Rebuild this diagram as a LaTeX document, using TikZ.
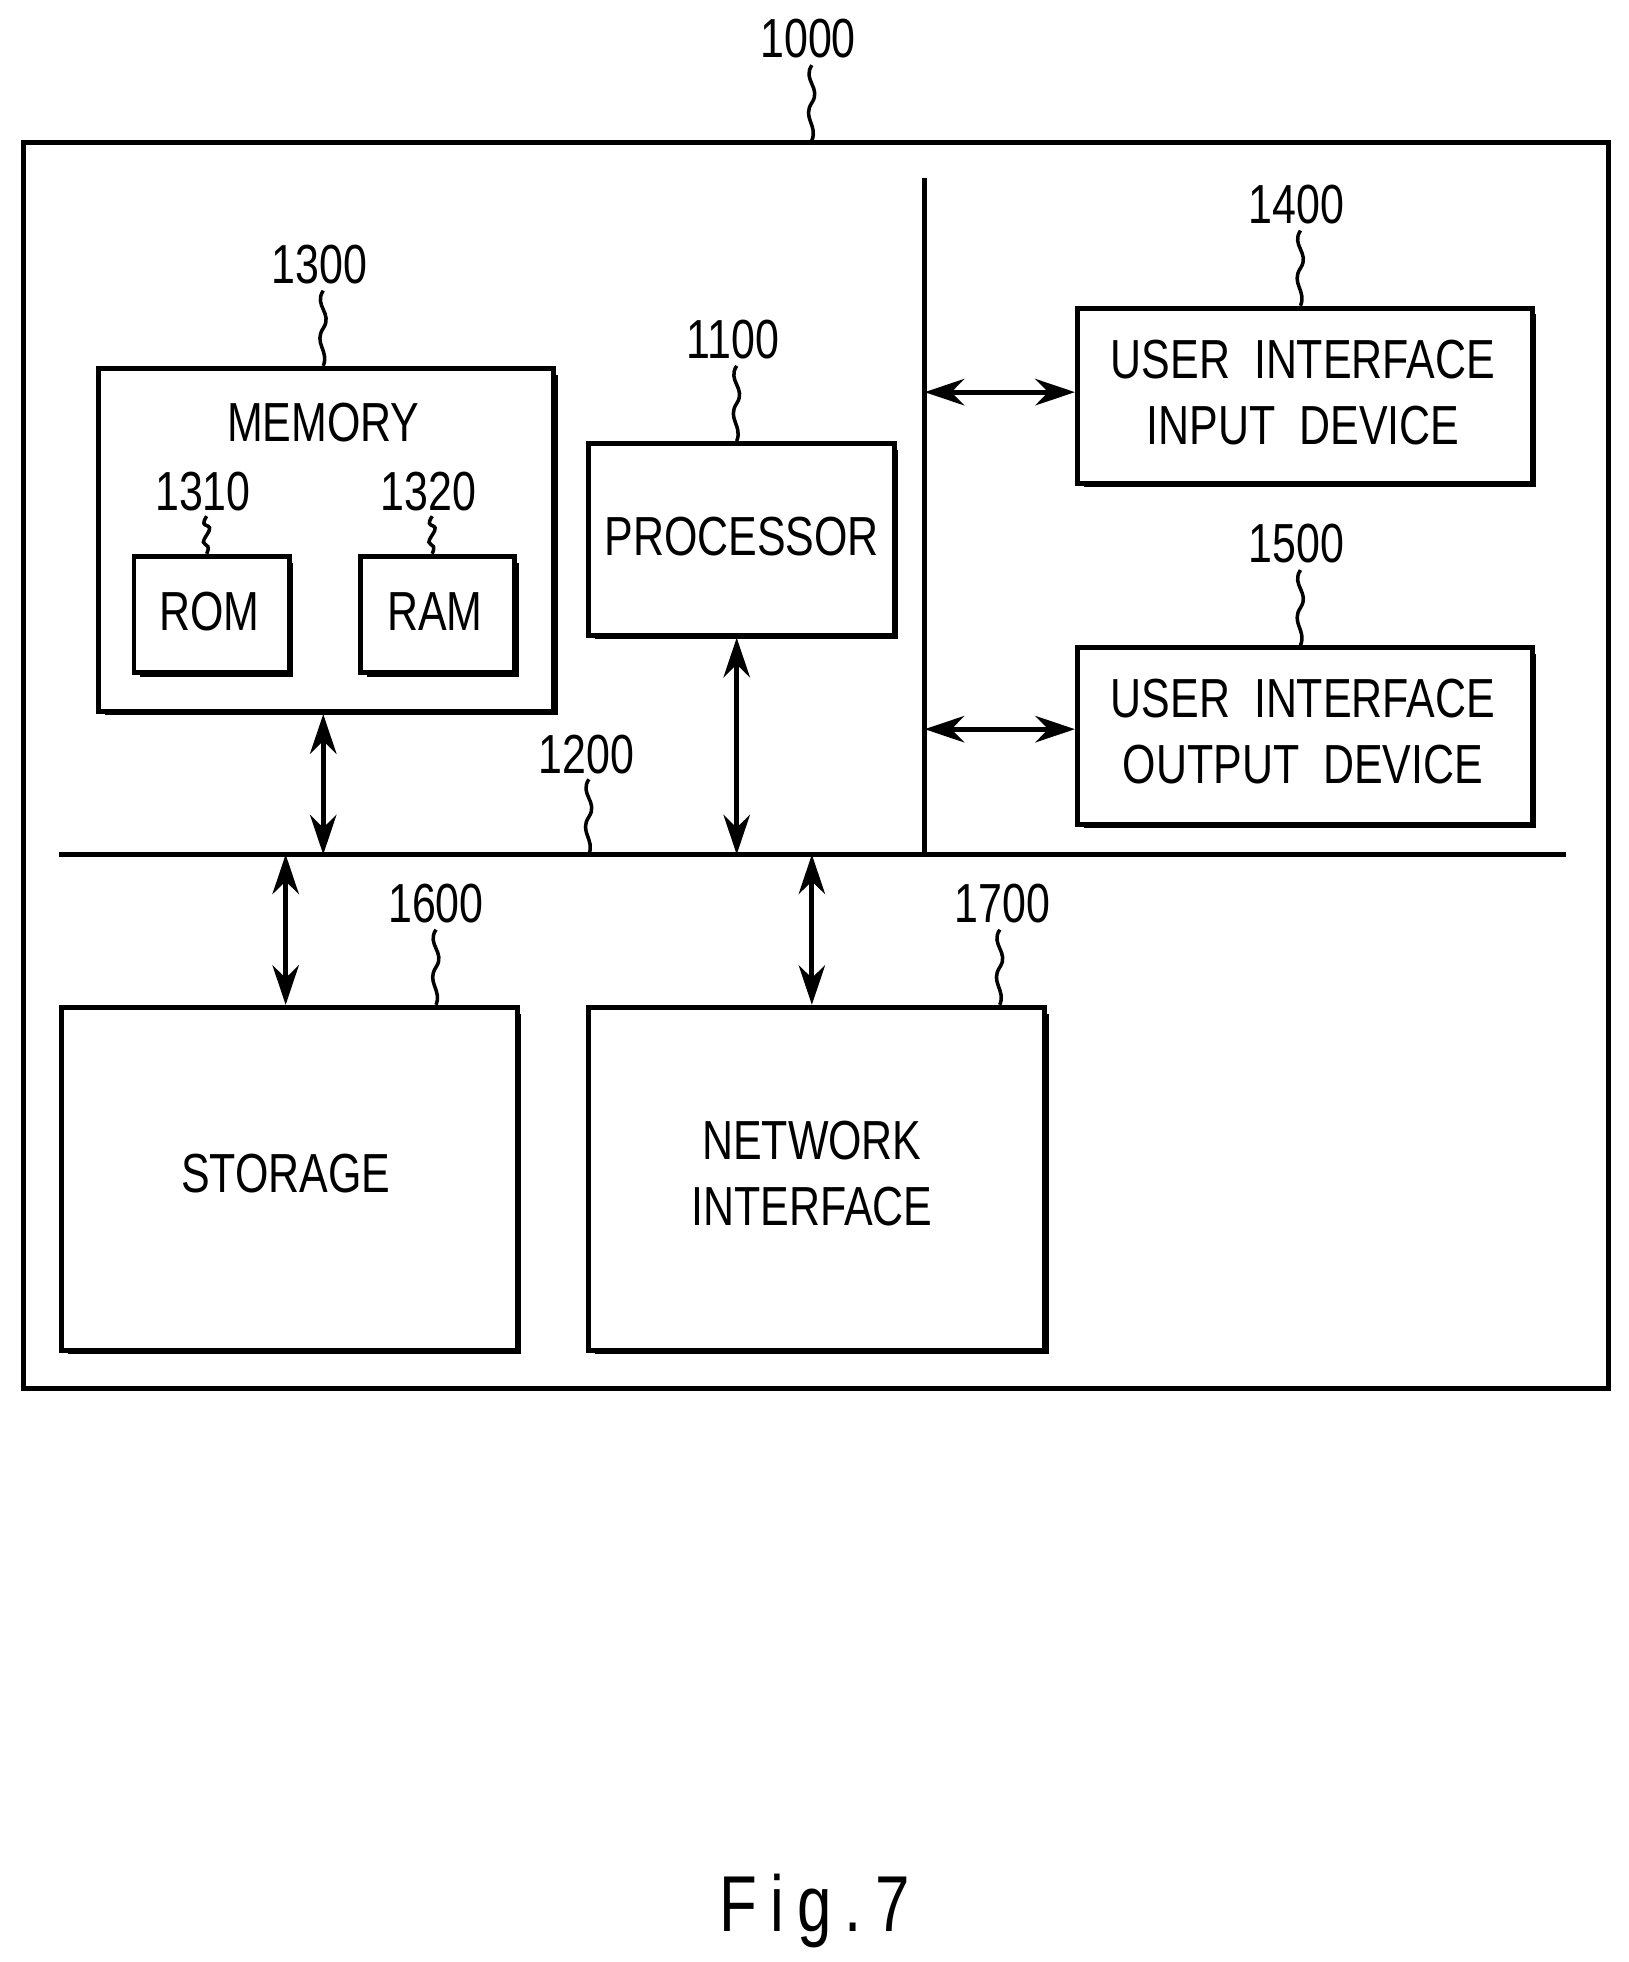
\documentclass[tikz,border=0pt]{standalone}
\usepackage{fontspec}
\setmainfont{Liberation Sans}[FakeStretch=0.78]
\usetikzlibrary{arrows.meta}
\begin{document}
\begin{tikzpicture}[x=0.1mm,y=-0.1mm,
  box/.style={draw,line width=1.1pt,fill=white},
  lbl/.style={font=\fontsize{12.5}{15}\selectfont,align=center},
  num/.style={font=\fontsize{12.5}{15}\selectfont},
  conn/.style={line width=1.1pt,{Stealth[length=9pt,width=6pt]}-{Stealth[length=9pt,width=6pt]}},
  sq/.style={line width=0.8pt}]
\useasboundingbox (0,0) rectangle (1300,1566);
\newcommand{\shbox}[5]{%
  \fill ({#2+7},{#3+7}) rectangle ({#4+5},{#5+5});
  \node[box,minimum width={(#4-#2)*0.1mm},minimum height={(#5-#3)*0.1mm},anchor=north west,inner sep=0pt] (#1) at (#2,#3) {};}
\newcommand{\squig}[3]{%
  \pgfmathsetmacro{\sqm}{(#2+#3)/2}%
  \draw[sq] (#1,#2) .. controls ({#1-8},{#2+12}) and ({#1+8},{\sqm-12}) .. (#1,\sqm) .. controls ({#1-8},{\sqm+12}) and ({#1+5},{#3-12}) .. (#1,#3);}
% outer
\fill (22,117) rectangle (1285,1109);
\node[box,minimum width=126.5mm,minimum height=99.4mm,anchor=north west,inner sep=0pt] (outer) at (17,112) {};
\node[num] (n1000) at (645,31) {1000}; \squig{648}{52}{112}
% memory
\shbox{mem}{77}{292}{440}{566}
\node[lbl] (memt) at (258,337) {MEMORY};
\node[num] (n1300) at (255,211) {1300}; \squig{258}{232}{292}
\shbox{rom}{105}{442}{229}{535}
\node[lbl] (romt) at (167,488) {ROM};
\node[num] (n1310) at (162,392) {1310}; \squig{165}{412}{442}
\shbox{ram}{286}{442}{409}{535}
\node[lbl] (ramt) at (347,488) {RAM};
\node[num] (n1320) at (342,392) {1320}; \squig{345}{412}{442}
% processor
\shbox{proc}{468}{352}{712}{505}
\node[lbl] (proct) at (592,428) {PROCESSOR};
\node[num] (n1100) at (585,271) {1100}; \squig{588}{292}{352}
% UI boxes
\shbox{uin}{858}{244}{1221}{384}
\node[lbl] (uint) at (1040,313) {USER\ \ INTERFACE\\INPUT\ \ DEVICE};
\node[num] (n1400) at (1035,163) {1400}; \squig{1038}{184}{244}
\shbox{uout}{858}{515}{1221}{656}
\node[lbl] (uoutt) at (1040,584) {USER\ \ INTERFACE\\OUTPUT\ \ DEVICE};
\node[num] (n1500) at (1035,434) {1500}; \squig{1038}{455}{515}
% buses
\coordinate (vt) at (738,142); \coordinate (vb) at (738,682);
\draw[line width=1.2pt] (vt) -- (vb);
\coordinate (bl) at (47,682); \coordinate (br) at (1250,682);
\draw[line width=1.2pt] (bl) -- (br);
\node[num] (n1200) at (468,602) {1200}; \squig{470}{622}{682}
% storage / network
\shbox{sto}{47}{802}{411}{1076}
\node[lbl] (stot) at (228,937) {STORAGE};
\node[num] (n1600) at (348,721) {1600}; \squig{348}{742}{802}
\shbox{net}{468}{802}{832}{1076}
\node[lbl] (nett) at (648,937) {NETWORK\\INTERFACE};
\node[num] (n1700) at (800,721) {1700}; \squig{798}{742}{802}
% connectors
\coordinate (a1) at (738,313); \coordinate (a2) at (738,582);
\coordinate (m1) at (258,570); \coordinate (m2) at (258,682);
\coordinate (p1) at (588,509); \coordinate (p2) at (588,682);
\coordinate (s1) at (228,682); \coordinate (k1) at (648,682);
\draw[conn] (a1) -- (a1 -| uin.west);
\draw[conn] (a2) -- (a2 -| uout.west);
\draw[conn] (m1) -- (m2);
\draw[conn] (p1) -- (p2);
\draw[conn] (s1) -- (sto.north -| s1);
\draw[conn] (k1) -- (net.north -| k1);
\node[font=\fontsize{18}{22}\selectfont] (fig) at (650,1525) {F\,i\,g\,.\,7};
\end{tikzpicture}
\end{document}
